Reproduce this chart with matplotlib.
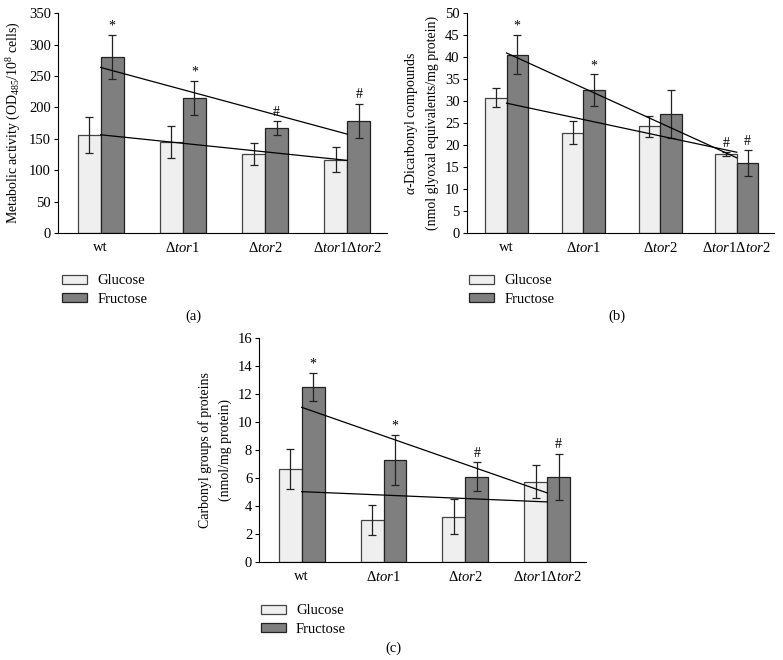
import numpy as np
import matplotlib
matplotlib.use('Agg')
import matplotlib.pyplot as plt
from matplotlib.patches import Patch

plt.rcParams['font.family'] = ['Liberation Serif', 'DejaVu Serif']
plt.rcParams['mathtext.fontset'] = 'custom'
plt.rcParams['mathtext.rm'] = 'Liberation Serif'
plt.rcParams['mathtext.it'] = 'Liberation Serif:italic'

# strains on the x axis
strains = ['wt', 'tor1', 'tor2', 'tor1tor2']
tick_labels = ['wt', r'$\Delta\mathit{tor1}$', r'$\Delta\mathit{tor2}$',
               r'$\Delta\mathit{tor1}\Delta\mathit{tor2}$']

# (a) metabolic activity
a_glucose = [156, 145, 126, 117]
a_glucose_err = [28, 26, 17, 20]
a_fructose = [281, 215, 167, 179]
a_fructose_err = [35, 27, 11, 27]
a_glucose_marks = ['', '', '', '']
a_fructose_marks = ['*', '*', '#', '#']

# (b) alpha-dicarbonyl compounds
b_glucose = [30.8, 22.8, 24.3, 17.9]
b_glucose_err = [2.1, 2.6, 2.4, 0.5]
b_fructose = [40.6, 32.5, 27.1, 15.9]
b_fructose_err = [4.5, 3.6, 5.4, 2.95]
b_glucose_marks = ['', '', '', '#']
b_fructose_marks = ['*', '*', '', '#']

# (c) carbonyl groups of proteins
c_glucose = [6.65, 3.0, 3.25, 5.75]
c_glucose_err = [1.45, 1.1, 1.25, 1.2]
c_fructose = [12.5, 7.3, 6.1, 6.1]
c_fructose_err = [1.0, 1.8, 1.05, 1.65]
c_glucose_marks = ['', '', '', '']
c_fructose_marks = ['*', '*', '#', '#']

glu_color = '#efefef'
fru_color = '#7f7f7f'
w = 0.28


def panel(ax, glu, glu_err, fru, fru_err, glu_marks, fru_marks, ymax, ystep, ylabel):
    x = np.arange(len(strains))
    ax.bar(x - w / 2, glu, w, color=glu_color, edgecolor='#444444', linewidth=0.9, zorder=2)
    ax.bar(x + w / 2, fru, w, color=fru_color, edgecolor='#222222', linewidth=0.9, zorder=2)
    ax.errorbar(x - w / 2, glu, yerr=glu_err, fmt='none', ecolor='#222222',
                elinewidth=0.9, capsize=3, capthick=0.9, zorder=3)
    ax.errorbar(x + w / 2, fru, yerr=fru_err, fmt='none', ecolor='#222222',
                elinewidth=0.9, capsize=3, capthick=0.9, zorder=3)
    # linear trend lines
    for vals in (glu, fru):
        k, b = np.polyfit(x, vals, 1)
        ax.plot([0, 3], [b, b + 3 * k], color='black', lw=0.9, zorder=4)
    off = ymax * 0.01
    for i in range(len(strains)):
        if glu_marks[i]:
            ax.text(x[i] - w / 2, glu[i] + glu_err[i] + off, glu_marks[i],
                    ha='center', va='bottom', fontsize=10)
        if fru_marks[i]:
            ax.text(x[i] + w / 2, fru[i] + fru_err[i] + off, fru_marks[i],
                    ha='center', va='bottom', fontsize=10)
    ax.set_xlim(-0.52, 3.48)
    ax.set_ylim(0, ymax)
    ax.set_yticks(np.arange(0, ymax + ystep / 2, ystep))
    ax.set_xticks(x)
    ax.set_xticklabels(tick_labels, fontsize=10.5)
    ax.tick_params(axis='x', length=0, pad=6)
    ax.tick_params(axis='y', length=3, labelsize=10.5, pad=2)
    ax.spines['top'].set_visible(False)
    ax.spines['right'].set_visible(False)
    ax.set_ylabel(ylabel, fontsize=10, linespacing=1.6)


fig = plt.figure(figsize=(7.83, 6.6), dpi=100)

ax_a = fig.add_axes([0.074, 0.647, 0.420, 0.333])
panel(ax_a, a_glucose, a_glucose_err, a_fructose, a_fructose_err,
      a_glucose_marks, a_fructose_marks, 350, 50,
      r'Metabolic activity (OD$_{485}$/10$^{8}$ cells)')

ax_b = fig.add_axes([0.596, 0.647, 0.392, 0.333])
panel(ax_b, b_glucose, b_glucose_err, b_fructose, b_fructose_err,
      b_glucose_marks, b_fructose_marks, 50, 5,
      '$\\alpha$-Dicarbonyl compounds\n(nmol glyoxal equivalents/mg protein)')

ax_c = fig.add_axes([0.331, 0.1485, 0.418, 0.339])
panel(ax_c, c_glucose, c_glucose_err, c_fructose, c_fructose_err,
      c_glucose_marks, c_fructose_marks, 16, 2,
      'Carbonyl groups of proteins\n(nmol/mg protein)')

handles = [Patch(facecolor=glu_color, edgecolor='#444444', linewidth=0.9, label='Glucose'),
           Patch(facecolor=fru_color, edgecolor='#222222', linewidth=0.9, label='Fructose')]
for lx, ly in [(0.072, 0.593), (0.592, 0.593), (0.326, 0.093)]:
    fig.legend(handles=handles, loc='upper left', bbox_to_anchor=(lx, ly),
               frameon=False, fontsize=10.5, handlelength=1.7, handleheight=0.55,
               labelspacing=0.35, handletextpad=0.7, borderaxespad=0)

fig.text(193 / 783, 1 - 316 / 660, '(a)', ha='center', va='center', fontsize=10.5)
fig.text(617 / 783, 1 - 316 / 660, '(b)', ha='center', va='center', fontsize=10.5)
fig.text(393 / 783, 1 - 648 / 660, '(c)', ha='center', va='center', fontsize=10.5)

fig.savefig('out.png', dpi=100)
